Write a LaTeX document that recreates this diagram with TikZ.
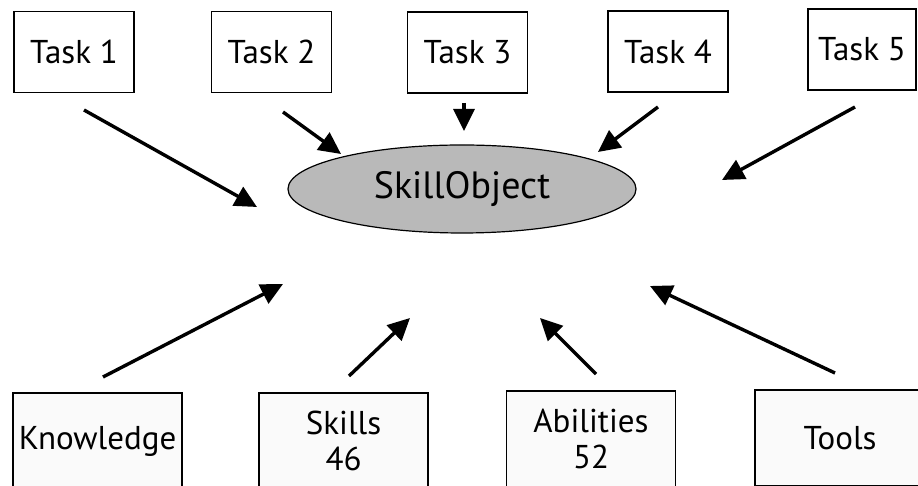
\documentclass[tikz,border=0pt]{standalone}
\usepackage{fontspec}
\setmainfont{PT Sans}
\usetikzlibrary{arrows.meta,shapes.geometric}
\tikzset{
  box/.style={draw=black,line width=1.2pt,fill=white,minimum width=120pt,minimum height=81pt,inner sep=0pt,font=\fontsize{33}{36}\selectfont,align=center},
  lowbox/.style={box,fill=gray!4,minimum width=169pt,minimum height=96pt},
  arr/.style={line width=3.4pt,-{Triangle[length=22pt,width=21pt]}},
  core/.style={ellipse,draw=black,line width=1.2pt,fill=gray!55,minimum width=348pt,minimum height=88pt,inner sep=0pt,font=\fontsize{38}{40}\selectfont}
}
\begin{document}
\begin{tikzpicture}[x=1pt,y=1pt]
\useasboundingbox (0,0) rectangle (918,486);
\fill[white] (0,0) rectangle (918,486);
% top boxes
\node[box] (t1) at (74,434) {Task 1};
\node[box] (t2) at (271.5,434) {Task 2};
\node[box] (t3) at (467.5,433.5) {Task 3};
\node[box] (t4) at (668,434.5) {Task 4};
\node[box,minimum width=108pt] (t5) at (862,436.5) {Task 5};
% centre
\node[core] (so) at (462,297) {SkillObject};
% bottom boxes
\node[lowbox] (kn) at (97.5,45) {Knowledge};
\node[lowbox] (sk) at (343.5,45) {Skills\\46};
\node[lowbox] (ab) at (591,47) {Abilities\\52};
\node[lowbox,minimum width=170pt] (to) at (840,48) {Tools};
% arrow ends
\coordinate (a1s) at (84,376);  \coordinate (a1e) at (257,279);
\coordinate (a2s) at (283,374); \coordinate (a2e) at (341,332);
\coordinate (a3s) at (464,383); \coordinate (a3e) at (464,355);
\coordinate (a4s) at (658,379); \coordinate (a4e) at (598,334);
\coordinate (a5s) at (855,379); \coordinate (a5e) at (722,306);
\coordinate (a6s) at (103,109); \coordinate (a6e) at (283,202);
\coordinate (a7s) at (349,110); \coordinate (a7e) at (410,168);
\coordinate (a8s) at (596,112); \coordinate (a8e) at (540,168);
\coordinate (a9s) at (835,113); \coordinate (a9e) at (650,200);
\foreach \i in {1,...,9} {\draw[arr] (a\i s) -- (a\i e);}
\end{tikzpicture}
\end{document}
